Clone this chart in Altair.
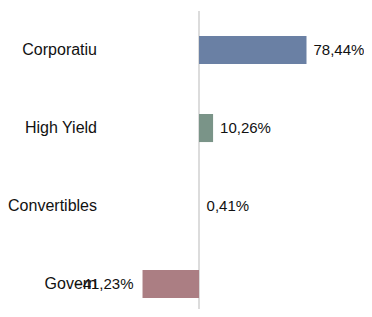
import altair as alt
import pandas as pd

categories = ["Corporatiu", "High Yield", "Convertibles", "Govern"]
values = [78.44, 10.26, 0.41, -41.23]
colors = ["#6a80a4", "#7a9488", "#dcdcdc", "#ab7e83"]

df = pd.DataFrame({"cat": categories, "val": values, "col": colors})

FONT = "Liberation Sans"
FS = 16
FSV = 15
xscale = alt.Scale(domain=[-139.4, 120.4], range=[0, 356], nice=False, zero=False)
yscale = alt.Scale(domain=categories, paddingInner=0.64, paddingOuter=0.36, range=[0, 318])

base = alt.Chart(df)

rule = alt.Chart(pd.DataFrame({"z": [0]})).mark_rule(color="#dcdcdc", strokeWidth=2).encode(
    x=alt.X("z:Q", scale=xscale, axis=None),
    y=alt.value(3), y2=alt.value(318),
)

bars = base.mark_bar().encode(
    x=alt.X("val:Q", scale=xscale, axis=None),
    x2=alt.datum(0),
    y=alt.Y("cat:N", scale=yscale, axis=None, sort=categories),
    color=alt.Color("col:N", scale=None, legend=None),
)

catlabels = base.mark_text(align="right", baseline="middle", font=FONT, fontSize=FS, color="#111").encode(
    x=alt.value(89),
    y=alt.Y("cat:N", scale=yscale, axis=None, sort=categories),
    text="cat:N",
)

lab = base.transform_calculate(
    lbl="replace(format(datum.val, '.2f'), '.', ',') + '%'"
)
pos = lab.transform_filter("datum.val >= 0").mark_text(
    align="left", baseline="middle", dx=7, font=FONT, fontSize=FSV, color="#111"
).encode(
    x=alt.X("val:Q", scale=xscale, axis=None),
    y=alt.Y("cat:N", scale=yscale, axis=None, sort=categories),
    text="lbl:N",
)
neg = lab.transform_filter("datum.val < 0").mark_text(
    align="right", baseline="middle", dx=-9, font=FONT, fontSize=FSV, color="#111"
).encode(
    x=alt.X("val:Q", scale=xscale, axis=None),
    y=alt.Y("cat:N", scale=yscale, axis=None, sort=categories),
    text="lbl:N",
)

chart = alt.layer(rule, bars, catlabels, pos, neg).properties(
    width=356, height=301, autosize=alt.AutoSizeParams(type="none"), padding=0
).configure_view(stroke=None)

chart.save("out.html", embed_options={"renderer": "svg", "actions": False})
